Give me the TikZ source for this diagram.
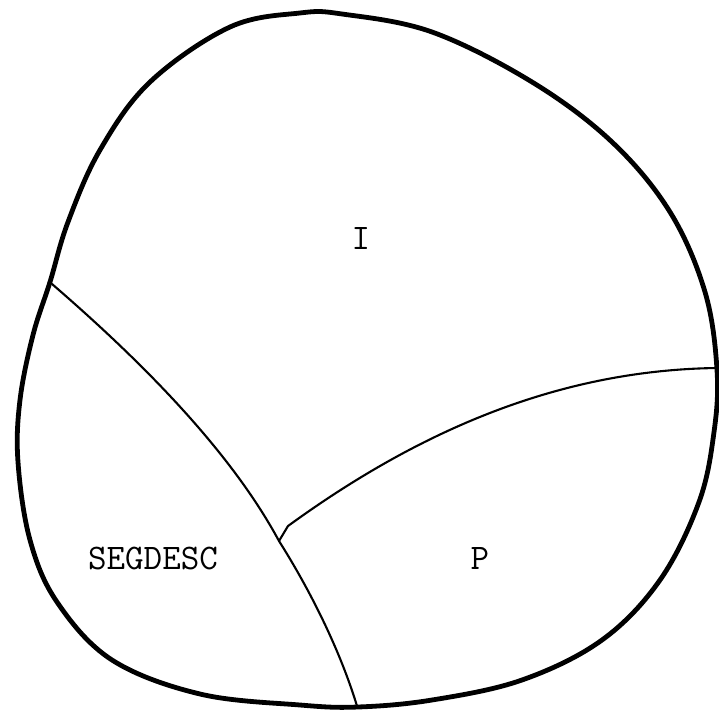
\documentclass[tikz,border=0pt]{standalone}
\usetikzlibrary{positioning}

\begin{document}
\begin{tikzpicture}[
  x=1pt, y=-1pt,
  rim/.style={line width=4.8pt, line join=round},
  seam/.style={line width=2.1pt, line cap=round},
  lbl/.style={font=\fontsize{36}{40}\selectfont\ttfamily, inner sep=0pt},
  ]
\useasboundingbox (0,0) rectangle (719,709);
% outer rim
\draw[rim] plot[smooth cycle, tension=0.6] coordinates {
  (300,13) (230,27) (150,82) (100,150) (68,222) (50,282)
  (33,335) (20,400) (18,462) (30,540) (57,602) (112,660)
  (200,694) (300,705) (358,707) (432,700) (522,680) (602,640)
  (660,580) (699,502) (714,432) (717,370) (705,292) (670,212)
  (612,142) (532,82) (432,32) (342,14)};
% seam end points
\coordinate (lft) at (52,284);
\coordinate (jct) at (279,541);
\coordinate (bot) at (357,706);
\coordinate (rgt) at (717,368);
% seams
\draw[seam] (lft) .. controls (140,360) and (230,450) .. (jct);
\draw[seam] (jct) .. controls (310,590) and (340,650) .. (bot);
\draw[seam] (jct) -- (288,526) .. controls (420,430) and (560,370) .. (rgt);
% labels
\node[lbl] (regI)   at (361,238) {I};
\node[lbl] (regSEG) at (153,558) {SEGDESC};
\node[lbl] (regP)   at (480,558) {P};
\end{tikzpicture}
\end{document}
